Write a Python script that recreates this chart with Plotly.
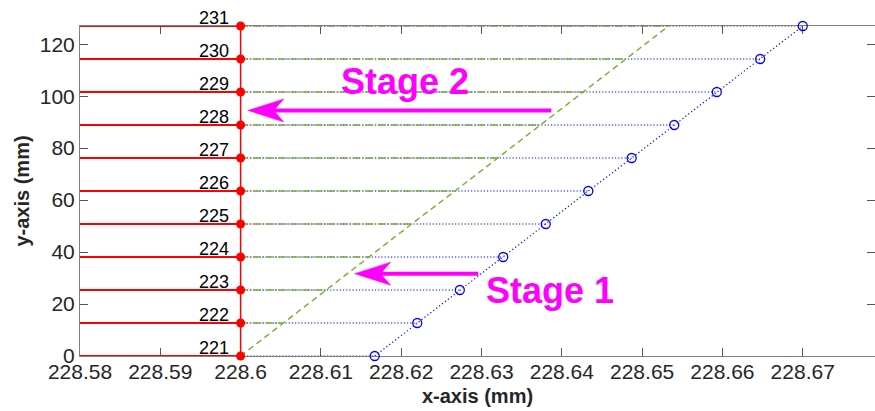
import plotly.graph_objects as go

# Level heights (mm) and their labels
y_levels = [0.0, 12.7, 25.4, 38.1, 50.8, 63.5, 76.2, 88.9, 101.6, 114.3, 127.0]
level_labels = ["221", "222", "223", "224", "225", "226", "227", "228", "229", "230", "231"]

# x positions (mm) of each series at every level
x_stage2 = [228.6, 228.6, 228.6, 228.6, 228.6, 228.6, 228.6, 228.6, 228.6, 228.6, 228.6]
x_green = [228.6, 228.6053, 228.6107, 228.6160, 228.6213, 228.6267,
           228.6320, 228.6373, 228.6427, 228.6480, 228.6533]
x_stage1 = [228.6167, 228.6220, 228.6273, 228.6327, 228.6380, 228.6433,
            228.6487, 228.6540, 228.6593, 228.6647, 228.6700]

# Axis ticks
x_tickvals = [228.58, 228.59, 228.60, 228.61, 228.62, 228.63, 228.64, 228.65, 228.66, 228.67]
x_ticktext = ["228.58", "228.59", "228.6", "228.61", "228.62", "228.63",
              "228.64", "228.65", "228.66", "228.67"]
y_tickvals = [0, 20, 40, 60, 80, 100, 120]

X_MIN, X_MAX = 228.58, 228.679
Y_MIN, Y_MAX = 0.0, 127.0

# Stage arrows: (tail x, tip x, y) and text positions
arrow2 = (228.6387, 228.6009, 94.5)
arrow1 = (228.6296, 228.6142, 31.7)
label2 = ("Stage 2", 228.6122, 105.8)
label1 = ("Stage 1", 228.6303, 25.3)

W, H = 875, 411
ML, MR, MT, MB = 80, 0, 26, 55
FONT = "Liberation Sans, Arial, Helvetica, sans-serif"
RED = "#FF0000"
BLUE = "#0000FF"
GREEN = "#77AC30"
MAGENTA = "#FF00FF"


def segments(x_from, x_to, ys):
    xs, yy = [], []
    for a, b, y in zip(x_from, x_to, ys):
        xs += [a, b, None]
        yy += [y, y, None]
    return xs, yy


fig = go.Figure()

# blue dotted horizontals from the red points to stage-1 points
bx, by = segments(x_stage2, x_stage1, y_levels)
fig.add_trace(go.Scatter(x=bx, y=by, mode="lines", cliponaxis=False,
                         line=dict(color=BLUE, width=1.2, dash="1.2px,2px"),
                         hoverinfo="skip"))

# green dash-dot horizontals up to the green diagonal
gx, gy = segments(x_stage2, x_green, y_levels)
fig.add_trace(go.Scatter(x=gx, y=gy, mode="lines", cliponaxis=False,
                         line=dict(color=GREEN, width=1.5, dash="7px,2px,1.5px,2px"),
                         hoverinfo="skip"))

# green dashed diagonal
fig.add_trace(go.Scatter(x=x_green, y=y_levels, mode="lines", cliponaxis=False,
                         line=dict(color=GREEN, width=1.4, dash="6px,4px"),
                         hoverinfo="skip"))

# blue dotted diagonal with open circles (stage 1)
fig.add_trace(go.Scatter(x=x_stage1, y=y_levels, mode="lines+markers", cliponaxis=False,
                         line=dict(color=BLUE, width=1.2, dash="1.2px,2.5px"),
                         marker=dict(symbol="circle-open", size=9,
                                     line=dict(color=BLUE, width=1.3)),
                         hoverinfo="skip"))

# red horizontals from the left edge to stage 2
rx, ry = segments([X_MIN] * len(y_levels), x_stage2, y_levels)
fig.add_trace(go.Scatter(x=rx, y=ry, mode="lines", cliponaxis=False,
                         line=dict(color=RED, width=2), hoverinfo="skip"))

# red vertical with filled dots (stage 2)
fig.add_trace(go.Scatter(x=x_stage2, y=y_levels, mode="lines+markers", cliponaxis=False,
                         line=dict(color=RED, width=1.5),
                         marker=dict(symbol="circle", size=9, color=RED),
                         hoverinfo="skip"))

annotations = []
for xv, yv, lab in zip(x_stage2, y_levels, level_labels):
    annotations.append(dict(x=xv, y=yv, text=lab, showarrow=False,
                            xanchor="right", yanchor="bottom", xshift=-10, yshift=-4,
                            font=dict(family=FONT, size=18, color="#000000")))

for text, xv, yv in (label2, label1):
    annotations.append(dict(x=xv, y=yv, text="<b>" + text + "</b>", showarrow=False,
                            xanchor="left", yanchor="middle",
                            font=dict(family=FONT, size=36, color=MAGENTA)))

# arrows drawn as shapes: shaft in data units, head in pixels at the tip
px_per_x = (W - ML - MR) / (X_MAX - X_MIN)
HEAD_LEN, HEAD_HALF, NOTCH = 36, 11.5, 26
shapes = []
for tail, tip, yv in (arrow2, arrow1):
    shapes.append(dict(type="line", xref="x", yref="y",
                       x0=tail, x1=tip + (NOTCH - 2) / px_per_x, y0=yv, y1=yv,
                       line=dict(color=MAGENTA, width=4)))
    shapes.append(dict(type="path", xref="x", yref="y",
                       xsizemode="pixel", ysizemode="pixel",
                       xanchor=tip, yanchor=yv,
                       path=f"M0,0 L{HEAD_LEN},{HEAD_HALF} L{NOTCH},0 L{HEAD_LEN},{-HEAD_HALF} Z",
                       fillcolor=MAGENTA, line=dict(color=MAGENTA, width=0.5)))

axis_common = dict(showgrid=False, zeroline=False, showline=True, linecolor="#808080",
                   linewidth=1, mirror="ticks", ticks="inside", ticklen=8,
                   tickcolor="#555555", tickwidth=1, layer="below traces",
                   tickfont=dict(family=FONT, size=21, color="#262626"))

fig.update_layout(
    width=W, height=H,
    margin=dict(l=ML, r=MR, t=MT, b=MB),
    paper_bgcolor="white", plot_bgcolor="white",
    showlegend=False,
    xaxis=dict(range=[X_MIN, X_MAX], tickvals=x_tickvals, ticktext=x_ticktext,
               ticklabelstandoff=-3,
               title=dict(text="<b>x-axis (mm)</b>", standoff=6,
                          font=dict(family=FONT, size=20, color="#262626")),
               **axis_common),
    yaxis=dict(range=[Y_MIN, Y_MAX], tickvals=y_tickvals,
               title=dict(text="<b>y-axis (mm)</b>", standoff=4,
                          font=dict(family=FONT, size=20, color="#262626")),
               **axis_common),
    annotations=annotations,
    shapes=shapes,
)

fig.write_html("out.html")
